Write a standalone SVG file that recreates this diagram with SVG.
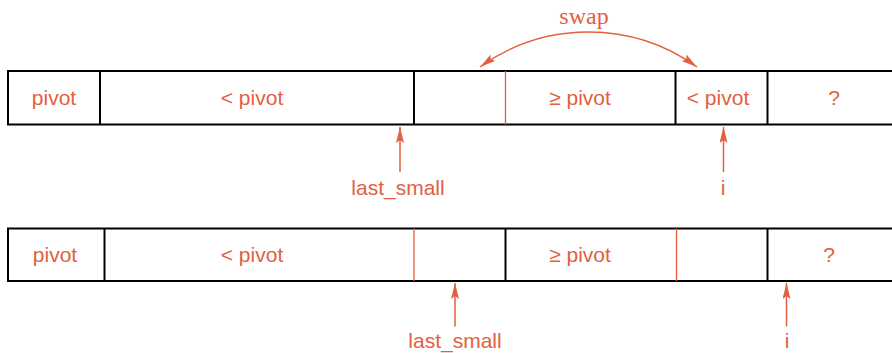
<svg xmlns="http://www.w3.org/2000/svg" width="892" height="353" viewBox="0 0 892 353">
<defs>
<style>
.box{stroke:#000;stroke-width:2;fill:none}
.div{stroke:#000;stroke-width:2}
.odiv{stroke:#E2603F;stroke-width:1.3}
.lbl{font-family:"Liberation Sans",Arial,sans-serif;font-size:21px;fill:#E2603F;text-anchor:middle}
.swap{font-family:"Liberation Serif","Times New Roman",serif;font-size:24px;fill:#E2603F;text-anchor:middle}
.arr{stroke:#E2603F;stroke-width:1.5;fill:none}
</style>
<marker id="ah" markerUnits="userSpaceOnUse" markerWidth="17" markerHeight="9" refX="16" refY="4" orient="auto-start-reverse" viewBox="0 0 17 9">
<path d="M0,0 L16,4 L0,8 L3,4 z" fill="#E2603F"/>
</marker>
</defs>
<rect width="892" height="353" fill="#fff"/>
<g id="row1">
<path class="box" d="M893,71 H8 V124.5 H893"/>
<line class="div" x1="100" y1="71" x2="100" y2="124.5"/>
<line class="div" x1="414" y1="71" x2="414" y2="124.5"/>
<line class="odiv" x1="505.5" y1="71" x2="505.5" y2="124.5"/>
<line class="div" x1="675.5" y1="71" x2="675.5" y2="124.5"/>
<line class="div" x1="767.5" y1="71" x2="767.5" y2="124.5"/>
<text class="lbl" x="54" y="104.5">pivot</text>
<text class="lbl" x="252" y="104.5">&lt; pivot</text>
<text class="lbl" x="580" y="104.5">≥ pivot</text>
<text class="lbl" x="718" y="104.5">&lt; pivot</text>
<text class="lbl" x="834" y="104.5">?</text>
</g>
<g id="row2">
<path class="box" d="M893,228.5 H8 V281 H893"/>
<line class="div" x1="104.5" y1="228.5" x2="104.5" y2="281"/>
<line class="odiv" x1="414" y1="228.5" x2="414" y2="281"/>
<line class="div" x1="505.5" y1="228.5" x2="505.5" y2="281"/>
<line class="odiv" x1="676.5" y1="228.5" x2="676.5" y2="281"/>
<line class="div" x1="767.5" y1="228.5" x2="767.5" y2="281"/>
<text class="lbl" x="55" y="262">pivot</text>
<text class="lbl" x="252" y="262">&lt; pivot</text>
<text class="lbl" x="580" y="262">≥ pivot</text>
<text class="lbl" x="829" y="262">?</text>
</g>
<g id="labels">
<text class="swap" x="584" y="24">swap</text>
<text class="lbl" x="398" y="195">last_small</text>
<text class="lbl" x="723" y="195">i</text>
<text class="lbl" x="455" y="348">last_small</text>
<text class="lbl" x="787" y="348">i</text>
</g>
<g id="connectors">
<path class="arr" d="M480,67 A186,186 0 0 1 697,67" marker-start="url(#ah)" marker-end="url(#ah)"/>
<line class="arr" x1="400" y1="172" x2="400" y2="127" marker-end="url(#ah)"/>
<line class="arr" x1="723.5" y1="172" x2="723.5" y2="127" marker-end="url(#ah)"/>
<line class="arr" x1="455" y1="326.5" x2="455" y2="283" marker-end="url(#ah)"/>
<line class="arr" x1="786.5" y1="326.5" x2="786.5" y2="283" marker-end="url(#ah)"/>
</g>
</svg>
